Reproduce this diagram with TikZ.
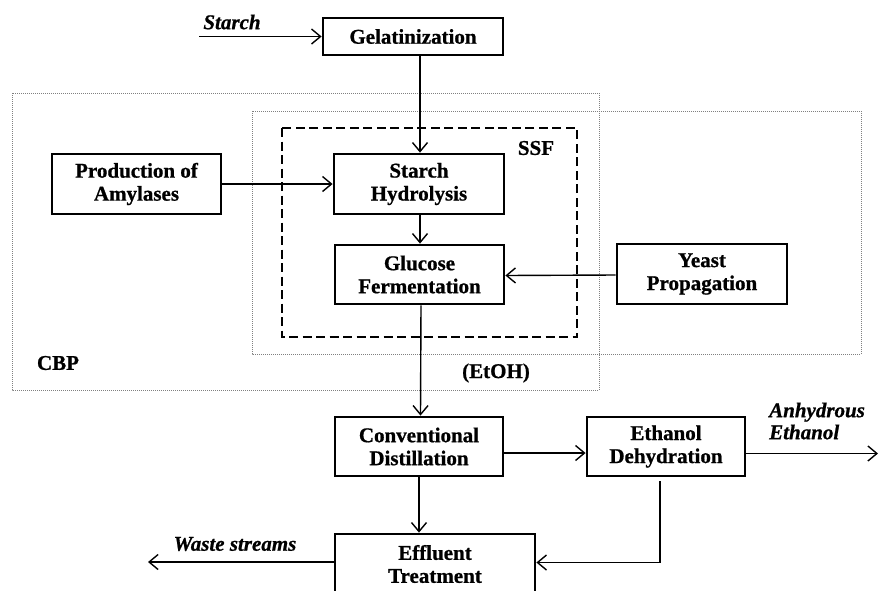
\documentclass[tikz,border=0pt]{standalone}
\usepackage{fontspec}
\setmainfont{Liberation Serif}[BoldFeatures={FakeBold=0.8},BoldItalicFeatures={FakeBold=0.8}]
\usetikzlibrary{arrows.meta}
\begin{document}
\begin{tikzpicture}[x=1pt,y=-1pt,
  box/.style={draw,line width=2.8pt,minimum width=#1,inner sep=0pt,align=center,
    font=\fontsize{21}{23}\selectfont\bfseries},
  box/.default=170pt,
  arr/.style={line width=1.4pt,-{Straight Barb[length=9pt,width=15pt]}},
  conn/.style={line width=1.4pt},
  dotbox/.style={draw=black!50,line width=0.7pt,dash pattern=on 1pt off 1pt},
  ssfbox/.style={draw,line width=2.8pt,dash pattern=on 9pt off 4.5pt},
  lab/.style={font=\fontsize{21}{23}\selectfont\bfseries,inner sep=0pt},
  ilab/.style={font=\fontsize{21}{23}\selectfont\bfseries\itshape,inner sep=0pt,align=left}
]
\useasboundingbox (0,0) rectangle (879,590);
\clip (0,0) rectangle (879,590);
% grouping boxes
\draw[dotbox] (12,93) rectangle (599,390);
\draw[dotbox] (252,111) rectangle (861,354);
\draw[ssfbox] (282,128) rectangle (577,337);
% process boxes
\node[box=180pt,minimum height=37pt] (gel) at (413,36.5) {Gelatinization};
\node[box=169pt,minimum height=60pt] (prod) at (136.5,184) {Production of\\Amylases};
\node[box=170pt,minimum height=60pt] (sh) at (419,184) {Starch\\Hydrolysis};
\node[box=169pt,minimum height=59pt] (gf) at (419.5,274.5) {Glucose\\Fermentation};
\node[box=170pt,minimum height=60pt] (yp) at (702,274) {Yeast\\Propagation};
\node[box=168pt,minimum height=59pt] (cd) at (419,446.5) {Conventional\\Distillation};
\node[box=158pt,minimum height=59pt] (ed) at (666,446.5) {Ethanol\\Dehydration};
\node[box=200pt,minimum height=60pt] (et) at (435,564) {Effluent\\Treatment};
% labels
\node[ilab] (starchlab) at (232,22) {Starch};
\node[lab] (ssflab) at (536,148) {SSF};
\node[lab] (cbplab) at (58,363) {CBP};
\node[lab] (etohlab) at (496,373) {(EtOH)};
\node[ilab,anchor=west] (anhlab) at (769,421) {Anhydrous\\[-1pt]Ethanol};
\node[ilab] (wastelab) at (235,544) {Waste streams};
% free ends
\coordinate (starchin) at (199,36.5);
\coordinate (anhout) at (878,453.5);
\coordinate (wasteout) at (148,562);
% connectors
\draw[arr] (starchin) -- (gel.west);
\draw[arr] (sh.north |- gel.south) ++(1,0) -- ([xshift=1pt]sh.north);
\draw[arr] (prod.east) -- (sh.west);
\draw[arr] ([xshift=1pt]sh.south) -- ([xshift=0.5pt]gf.north);
\draw[arr] ([yshift=-1pt]yp.west) -- ([yshift=-1pt]gf.east);
\draw[arr] ([xshift=1.5pt]gf.south) -- ([xshift=1.5pt]cd.north);
\draw[arr] ([yshift=-6.5pt]cd.east) -- ([yshift=-6.5pt]ed.west);
\draw[arr] ([yshift=-7pt]ed.east) -- (anhout);
\draw[arr] (cd.south) -- (cd.south |- et.north);
\draw[arr] ([xshift=-6pt,yshift=-4pt]ed.south) |- ([yshift=1.5pt]et.east);
\draw[arr] ([yshift=2pt]et.west) -- (wasteout);
\end{tikzpicture}
\end{document}
